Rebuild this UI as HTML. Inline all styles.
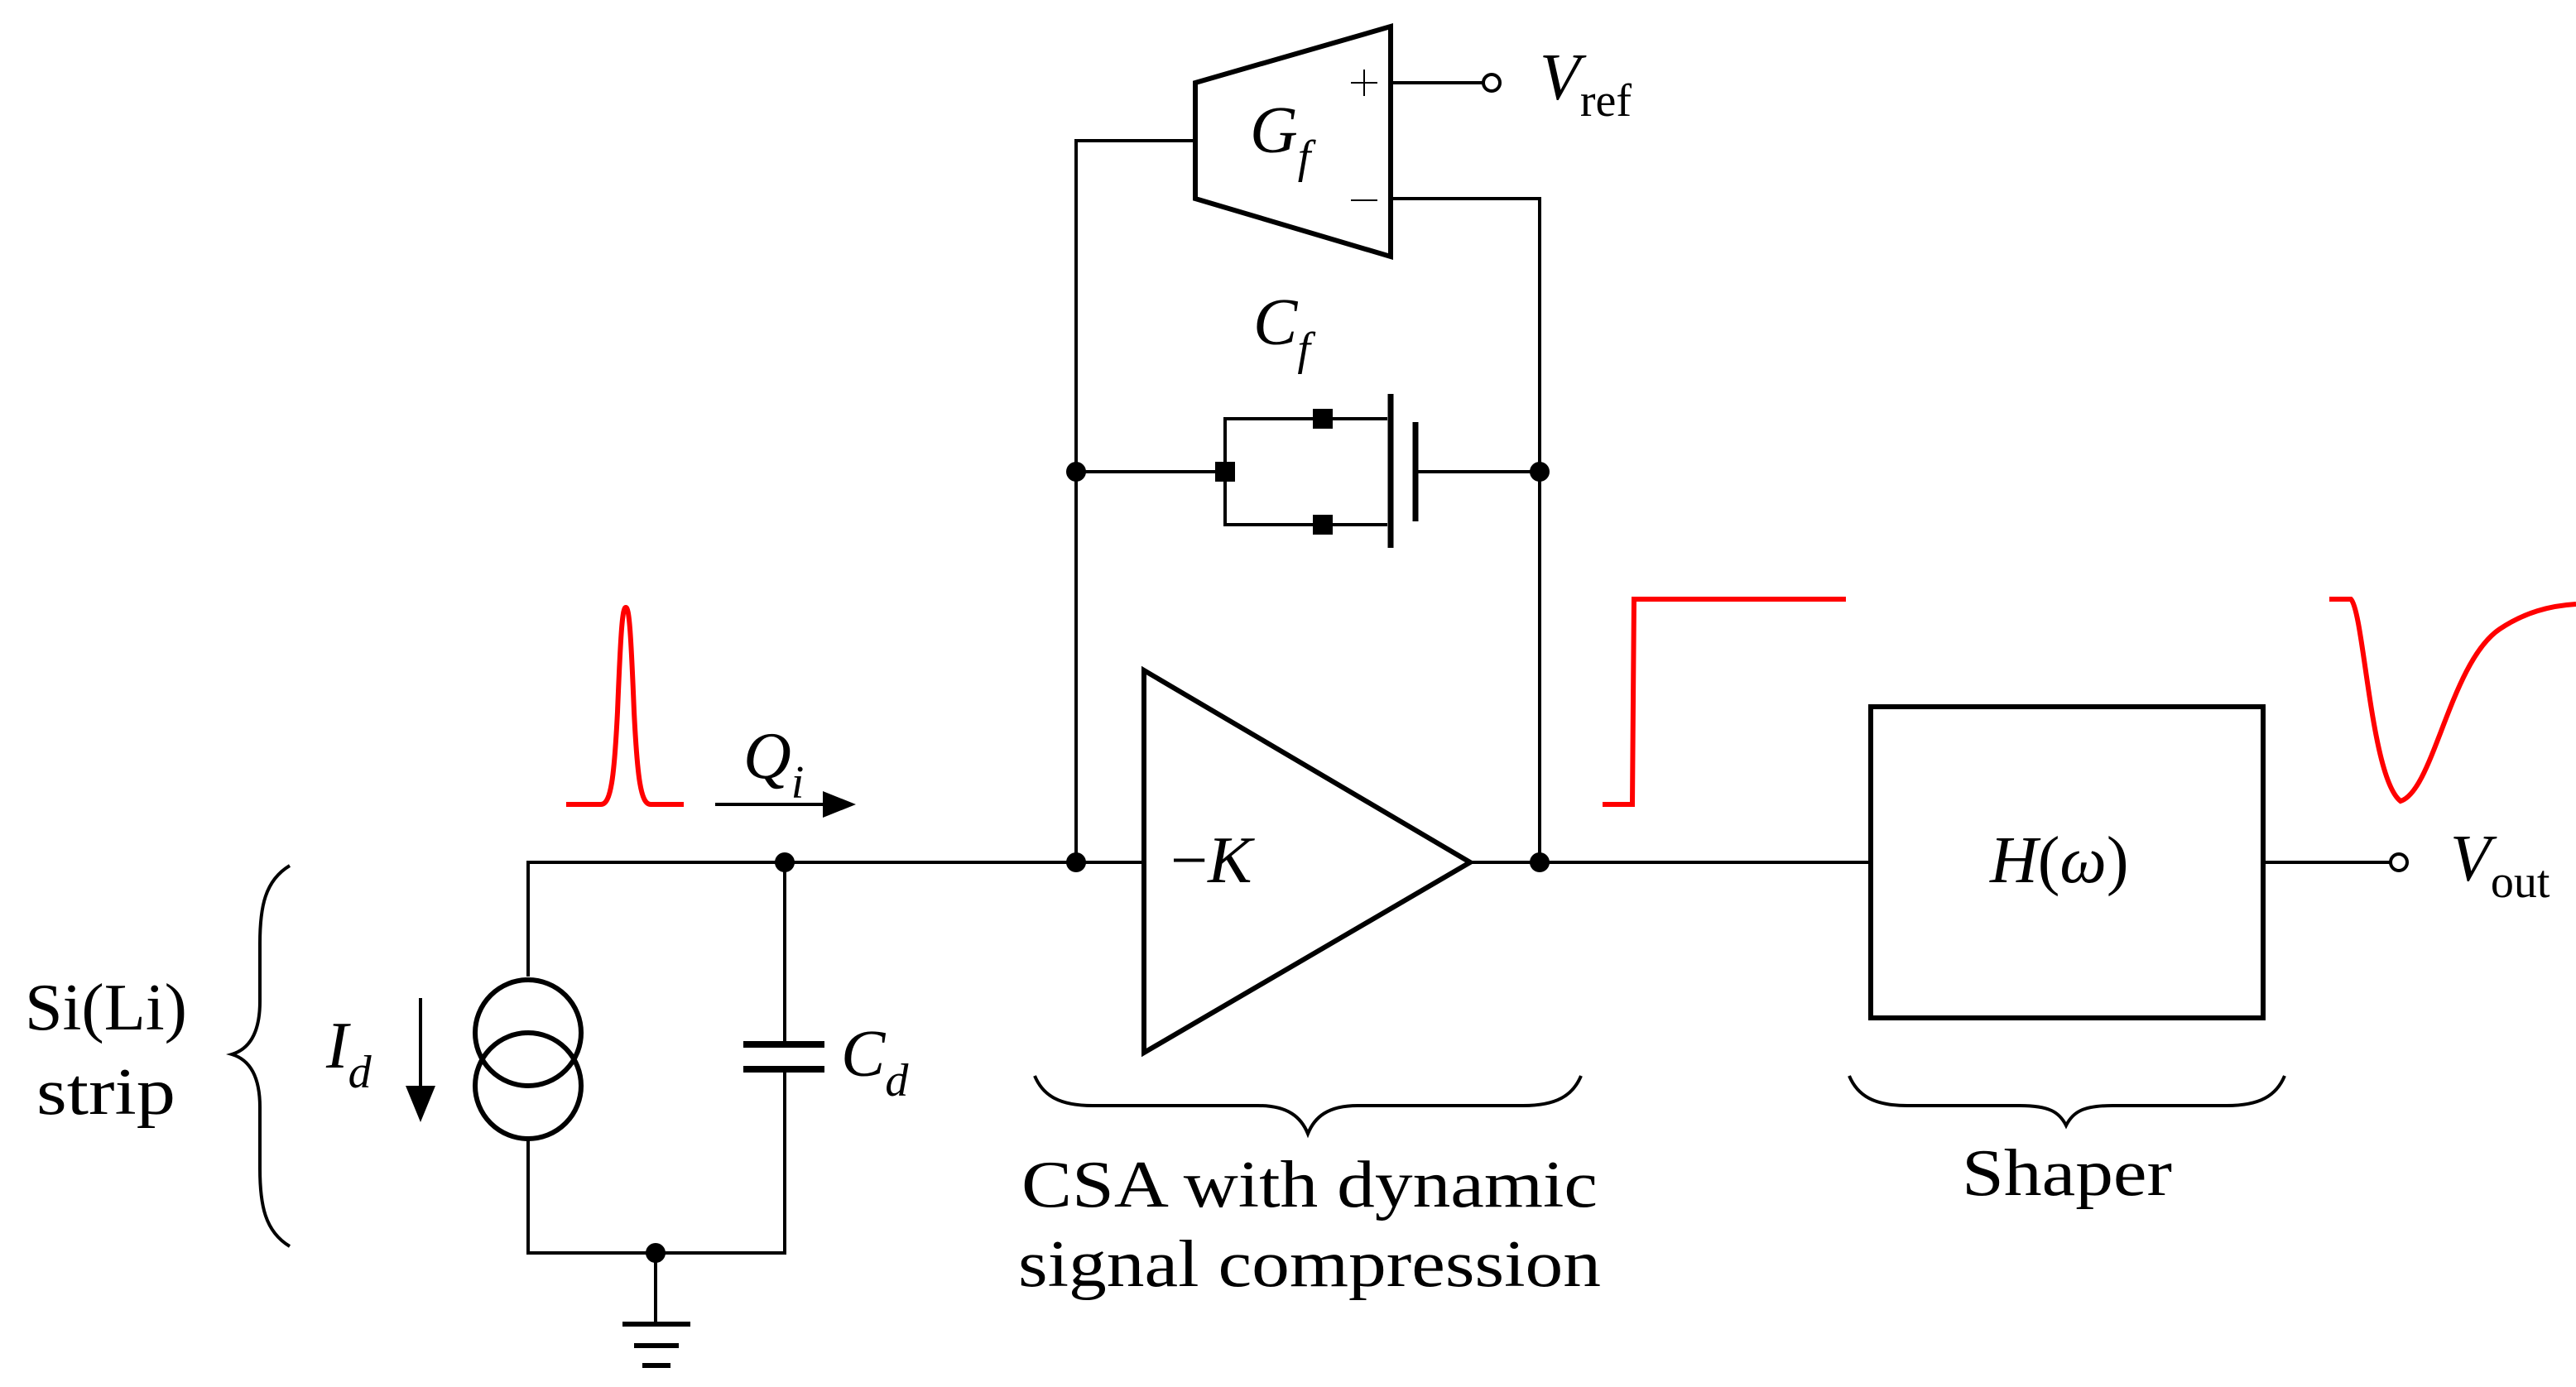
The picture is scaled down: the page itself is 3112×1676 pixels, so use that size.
<!DOCTYPE html>
<html><head><style>html,body{margin:0;padding:0;background:#fff;width:3112px;height:1676px;overflow:hidden}</style></head>
<body>
<svg width="3112" height="1676" viewBox="0 0 1556 838" xmlns="http://www.w3.org/2000/svg" font-family="Liberation Serif, serif">
<g fill="none" stroke="#000" stroke-width="2">
<polyline points="319,590 319,521 691,521"/>
<line x1="888" y1="521" x2="1130" y2="521"/>
<line x1="1367" y1="521" x2="1444" y2="521"/>
<circle cx="1449" cy="521" r="5"/>
<circle cx="319" cy="624" r="32" stroke-width="3"/>
<circle cx="319" cy="656" r="32" stroke-width="3"/>
<polyline points="319,688 319,757 474,757 474,646"/>
<line x1="474" y1="521" x2="474" y2="631"/>
<line x1="449" y1="631" x2="498" y2="631" stroke-width="4"/>
<line x1="449" y1="646" x2="498" y2="646" stroke-width="4"/>
<line x1="396" y1="757" x2="396" y2="800"/>
<line x1="376" y1="800" x2="417" y2="800" stroke-width="3"/>
<line x1="383" y1="813" x2="410" y2="813" stroke-width="3"/>
<line x1="388" y1="825" x2="405" y2="825" stroke-width="3"/>
<line x1="254" y1="603" x2="254" y2="660"/>
<path d="M175,523 C160,532 157,548 157,570 L157,605 C157,625 150,634 140,637 C150,640 157,649 157,669 L157,706 C157,728 160,744 175,753"/>
<polygon points="691,405 691,636 888,521" stroke-width="3"/>
<polyline points="650,521 650,85 722,85"/>
<polyline points="930,521 930,120 840,120"/>
<polygon points="722,50 840,16 840,155 722,120" stroke-width="3"/>
<line x1="840" y1="50" x2="896" y2="50"/>
<circle cx="901" cy="50" r="5"/>
<line x1="816" y1="50" x2="832" y2="50" stroke-width="1"/>
<line x1="824" y1="42" x2="824" y2="58" stroke-width="1"/>
<line x1="816" y1="121" x2="832" y2="121" stroke-width="1"/>
<line x1="650" y1="285" x2="740" y2="285"/>
<polyline points="838,253 740,253 740,317 838,317"/>
<line x1="840" y1="238" x2="840" y2="331" stroke-width="3.5"/>
<line x1="855" y1="255" x2="855" y2="315" stroke-width="3.5"/>
<line x1="855" y1="285" x2="930" y2="285"/>
<rect x="1130" y="427" width="237" height="188" stroke-width="3"/>
<path d="M625,650 C630,662 640,668 660,668 L760,668 C778,668 786,675 790,685 C794,675 802,668 820,668 L920,668 C940,668 950,662 955,650"/>
<path d="M1117,650 C1122,662 1132,668 1152,668 L1220,668 C1238,668 1244,672 1248,680 C1252,672 1258,668 1276,668 L1345,668 C1365,668 1375,662 1380,650"/>
<line x1="432" y1="486" x2="500" y2="486"/>
</g>
<g fill="#000">
<polygon points="497,478 517,486 497,494"/>
<polygon points="245,656 254,678 263,656"/>
<circle cx="474" cy="521" r="6"/><circle cx="650" cy="521" r="6"/><circle cx="930" cy="521" r="6"/>
<circle cx="650" cy="285" r="6"/><circle cx="930" cy="285" r="6"/><circle cx="396" cy="757" r="6"/>
<rect x="734" y="279" width="12" height="12"/><rect x="793" y="247" width="12" height="12"/><rect x="793" y="311" width="12" height="12"/>
</g>
<g fill="none" stroke="#f00" stroke-width="3">
<path d="M342,486 L363,486 C369,486 371,470 373,430 C375,380 376,367 378,367 C380,367 381,380 383,430 C385,470 387,486 393,486 L413,486"/>
<polyline points="968,486 986,486 987,362 1115,362"/>
<path d="M1407,362 L1420,362 C1428,370 1432,470 1450,484 C1470,478 1480,400 1510,380 C1525,370 1540,366 1556,365"/>
</g>
<g fill="#000" font-size="40">
<text x="15" y="622" textLength="98" lengthAdjust="spacingAndGlyphs">Si(Li)</text>
<text x="22" y="673" textLength="84" lengthAdjust="spacingAndGlyphs">strip</text>
<text x="617" y="729" textLength="348" lengthAdjust="spacingAndGlyphs">CSA with dynamic</text>
<text x="615" y="777" textLength="352" lengthAdjust="spacingAndGlyphs">signal compression</text>
<text x="1185" y="722" textLength="127" lengthAdjust="spacingAndGlyphs">Shaper</text>
</g>
<g fill="#000" font-size="40" font-style="italic">
<text x="197" y="645">I<tspan font-size="28" dy="12">d</tspan></text>
<text x="508" y="650">C<tspan font-size="28" dy="12">d</tspan></text>
<text x="449" y="470">Q<tspan font-size="28" dy="12">i</tspan></text>
<text x="755" y="92">G<tspan font-size="28" dy="12">f</tspan></text>
<text x="757" y="208">C<tspan font-size="28" dy="12">f</tspan></text>
<text x="707" y="533"><tspan font-style="normal">−</tspan>K</text>
<text x="1202" y="533">H<tspan font-style="normal">(</tspan>ω<tspan font-style="normal">)</tspan></text>
<text x="930" y="60">V<tspan font-size="28" font-style="normal" dy="10">ref</tspan></text>
<text x="1480" y="532">V<tspan font-size="28" font-style="normal" dy="10">out</tspan></text>
</g>
</svg>
</body></html>
